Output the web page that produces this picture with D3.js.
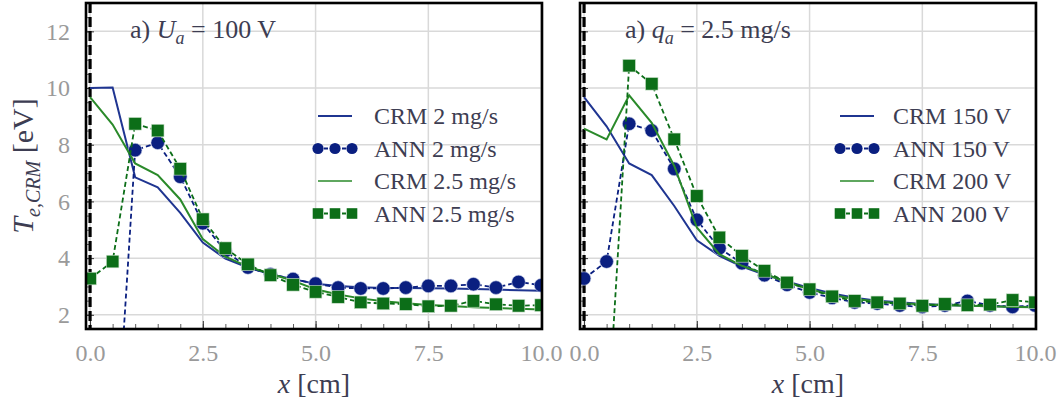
<!DOCTYPE html>
<html><head><meta charset="utf-8">
<script src="https://cdn.jsdelivr.net/npm/d3@7"></script>
<style>body{margin:0;background:#fff;} svg{display:block;}</style>
</head><body>
<svg id="chart" width="1057" height="408"></svg>
<script>
const xs = [0,0.5,1,1.5,2,2.5,3,3.5,4,4.5,5,5.5,6,6.5,7,7.5,8,8.5,9,9.5,10];
// Panel a) U_a = 100 V
const crm2  = [10.0,10.02,6.85,6.5,5.6,4.55,3.98,3.67,3.43,3.26,3.1,3.02,2.97,2.95,2.95,2.94,2.93,2.91,2.89,2.87,2.85];
const ann2  = [-4.8,-4.8,7.81,8.07,6.87,5.23,4.25,3.67,3.43,3.26,3.1,2.96,2.93,2.93,2.96,3.02,3.02,3.08,2.96,3.16,3.04];
const crm25 = [9.68,8.71,7.34,6.93,6.07,4.67,4.05,3.7,3.45,3.2,2.9,2.72,2.58,2.48,2.41,2.35,2.31,2.27,2.24,2.21,2.19];
const ann25 = [3.28,3.88,8.74,8.5,7.15,5.37,4.35,3.78,3.4,3.06,2.81,2.63,2.44,2.4,2.38,2.3,2.32,2.49,2.37,2.32,2.34];
// Panel a) q_a = 2.5 mg/s
const crm150 = [9.68,8.65,7.34,6.93,5.84,4.63,4.08,3.7,3.42,3.18,2.95,2.75,2.6,2.5,2.44,2.38,2.35,2.32,2.3,2.29,2.28];
const ann150 = [3.28,3.88,8.74,8.5,7.15,5.35,4.35,3.82,3.4,3.06,2.79,2.6,2.44,2.4,2.33,2.28,2.33,2.49,2.33,2.28,2.33];
const crm200 = [8.57,8.19,9.74,8.77,7.25,5.08,4.14,3.73,3.45,3.15,2.9,2.7,2.56,2.47,2.41,2.37,2.34,2.32,2.3,2.28,2.27];
const ann200 = [-2.5,-2.5,10.79,10.15,8.19,6.19,4.73,4.08,3.55,3.14,2.9,2.65,2.49,2.44,2.4,2.32,2.38,2.34,2.36,2.52,2.44];

const xTicks = [0,2.5,5,7.5,10];
const xTickLabels = ["0.0","2.5","5.0","7.5","10.0"];
const yTicks = [2,4,6,8,10,12];
const yTickLabels = ["2","4","6","8","10","12"];
const legendA = ["CRM 2 mg/s","ANN 2 mg/s","CRM 2.5 mg/s","ANN 2.5 mg/s"];
const legendB = ["CRM 150 V","ANN 150 V","CRM 200 V","ANN 200 V"];

const BLUE_L = "#1f3591", BLUE_M = "#0a1f80", GREEN_L = "#2a8a2a", GREEN_M = "#0c6e18";
const TXT = "#3d3d52", TICK = "#9a9a9a";
const FONT = "'Liberation Serif', 'DejaVu Serif', serif";

const svg = d3.select("#chart");
const defs = svg.append("defs");

function panel(idx, left, titleParts, series, legendLabels, legX, legTextX, legY0){
  const top = 3, bottom = 329, width = 456;
  const x = d3.scaleLinear().domain([-0.09, 10.02]).range([left, left+width]);
  const y = d3.scaleLinear().domain([1.5, 13]).range([bottom, top]);
  const g = svg.append("g");
  const clipId = "clip"+idx;
  defs.append("clipPath").attr("id", clipId).append("rect")
    .attr("x", left).attr("y", top).attr("width", width).attr("height", bottom-top);

  // grid
  g.append("g").selectAll("line").data(xTicks).join("line")
    .attr("x1", d=>x(d)).attr("x2", d=>x(d)).attr("y1", top).attr("y2", bottom)
    .attr("stroke", "#d9d9d9").attr("stroke-width", 1.5);
  g.append("g").selectAll("line").data(yTicks).join("line")
    .attr("x1", left).attr("x2", left+width).attr("y1", d=>y(d)).attr("y2", d=>y(d))
    .attr("stroke", "#d9d9d9").attr("stroke-width", 1.5);

  // axes with inward ticks
  const xMinor = d3.range(0, 10.01, 0.5);
  const xAxis = d3.axisBottom(x).tickValues(xMinor).tickSize(-5).tickFormat("");
  g.append("g").attr("transform", `translate(0,${bottom})`).call(xAxis)
    .call(a=>{a.select(".domain").remove(); a.selectAll("line").attr("stroke","#333").attr("stroke-width",0.8);});
  const xMajor = d3.axisBottom(x).tickValues(xTicks).tickSize(-8)
    .tickFormat((d,i)=>xTickLabels[i]).tickPadding(20);
  g.append("g").attr("transform", `translate(0,${bottom})`).call(xMajor)
    .call(a=>{a.select(".domain").remove();
      a.selectAll("line").attr("stroke","#333").attr("stroke-width",1);
      a.selectAll("text").attr("fill", TICK).attr("font-family", FONT).attr("font-size", 24)
        .attr("dy","0.5em");});
  const yMinor = d3.axisLeft(y).tickValues(d3.range(2, 13.01, 0.5)).tickSize(-5).tickFormat("");
  g.append("g").attr("transform", `translate(${left},0)`).call(yMinor)
    .call(a=>{a.select(".domain").remove(); a.selectAll("line").attr("stroke","#333").attr("stroke-width",0.8);});
  const yMajor = d3.axisLeft(y).tickValues(yTicks).tickSize(-8)
    .tickFormat((d,i)=> idx===0 ? yTickLabels[i] : "").tickPadding(16);
  g.append("g").attr("transform", `translate(${left},0)`).call(yMajor)
    .call(a=>{a.select(".domain").remove();
      a.selectAll("line").attr("stroke","#333").attr("stroke-width",1);
      a.selectAll("text").attr("fill", TICK).attr("font-family", FONT).attr("font-size", 24);});

  // vertical dashed line at x = 0
  g.append("line").attr("x1", x(0)).attr("x2", x(0)).attr("y1", top).attr("y2", bottom)
    .attr("stroke", "#000").attr("stroke-width", 3.2).attr("stroke-dasharray", "10,4");

  const plot = g.append("g").attr("clip-path", `url(#${clipId})`);
  const line = d3.line().x((d,i)=>x(xs[i])).y(d=>y(d));

  series.forEach(s=>{
    if(s.type==="crm"){
      plot.append("path").datum(s.values).attr("d", line).attr("fill","none")
        .attr("stroke", s.color).attr("stroke-width", 2);
    } else {
      plot.append("path").datum(s.values).attr("d", line).attr("fill","none")
        .attr("stroke", s.color).attr("stroke-width", 1.8).attr("stroke-dasharray","5,3");
      const pts = plot.append("g");
      s.values.forEach((v,i)=>{
        if(s.marker==="circle"){
          pts.append("circle").attr("cx", x(xs[i])).attr("cy", y(v)).attr("r", 6.8)
            .attr("fill", s.color).attr("stroke","#c8d0ea").attr("stroke-width",0.6);
        } else {
          pts.append("rect").attr("x", x(xs[i])-6.3).attr("y", y(v)-6.3)
            .attr("width", 12.6).attr("height", 12.6).attr("fill", s.color)
            .attr("stroke","#cfe3cf").attr("stroke-width",0.6);
        }
      });
    }
  });

  // frame
  g.append("rect").attr("x", left).attr("y", top).attr("width", width).attr("height", bottom-top)
    .attr("fill","none").attr("stroke","#000").attr("stroke-width", 2.6);

  // title
  const t = g.append("text").attr("x", titleParts.x).attr("y", 38)
    .attr("font-family", FONT).attr("font-size", 26).attr("fill", TXT);
  t.append("tspan").text("a) ");
  t.append("tspan").attr("font-style","italic").text(titleParts.sym);
  t.append("tspan").attr("font-style","italic").attr("font-size",18).attr("dy",6).text("a");
  t.append("tspan").attr("dy",-6).text(" = " + titleParts.rest);

  // legend
  const lg = g.append("g");
  series.forEach((s,k)=>{
    const yy = legY0 + k*32.5;
    if(s.type==="crm"){
      lg.append("line").attr("x1", legX).attr("x2", legX+34).attr("y1", yy).attr("y2", yy)
        .attr("stroke", s.color).attr("stroke-width", s.color===GREEN_L?1.6:2);
    } else {
      lg.append("line").attr("x1", legX).attr("x2", legX+34).attr("y1", yy).attr("y2", yy)
        .attr("stroke", s.color).attr("stroke-width", 1.8).attr("stroke-dasharray","4,2");
      [0,17,34].forEach(dx=>{
        if(s.marker==="circle") lg.append("circle").attr("cx", legX+dx).attr("cy", yy).attr("r",5.6).attr("fill", s.color);
        else lg.append("rect").attr("x", legX+dx-5.3).attr("y", yy-5.3).attr("width",10.6).attr("height",10.6).attr("fill", s.color);
      });
    }
    lg.append("text").attr("x", legTextX).attr("y", yy+8).attr("font-family", FONT)
      .attr("font-size", 24).attr("fill", TXT).text(legendLabels[k]);
  });

  // x label
  const xl = g.append("text").attr("x", left+width/2).attr("y", 393).attr("text-anchor","middle")
    .attr("font-family", FONT).attr("font-size", 28).attr("fill", TXT);
  xl.append("tspan").attr("font-style","italic").text("x");
  xl.append("tspan").text(" [cm]");
}

panel(0, 86, {x:130, sym:"U", rest:"100 V"}, [
  {type:"crm", values:crm2, color:BLUE_L},
  {type:"ann", values:ann2, color:BLUE_M, marker:"circle"},
  {type:"crm", values:crm25, color:GREEN_L},
  {type:"ann", values:ann25, color:GREEN_M, marker:"square"}
], legendA, 318, 374, 116);

panel(1, 580, {x:625, sym:"q", rest:"2.5 mg/s"}, [
  {type:"crm", values:crm150, color:BLUE_L},
  {type:"ann", values:ann150, color:BLUE_M, marker:"circle"},
  {type:"crm", values:crm200, color:GREEN_L},
  {type:"ann", values:ann200, color:GREEN_M, marker:"square"}
], legendB, 840, 893, 116);

// y label
const yl = svg.append("text").attr("transform","translate(33,166) rotate(-90)")
  .attr("text-anchor","middle").attr("font-family", FONT).attr("font-size", 30).attr("fill", TXT);
yl.append("tspan").attr("font-style","italic").text("T");
yl.append("tspan").attr("font-style","italic").attr("font-size",20).attr("dy",7).text("e,CRM");
yl.append("tspan").attr("dy",-7).text(" [eV]");
</script>
</body></html>
